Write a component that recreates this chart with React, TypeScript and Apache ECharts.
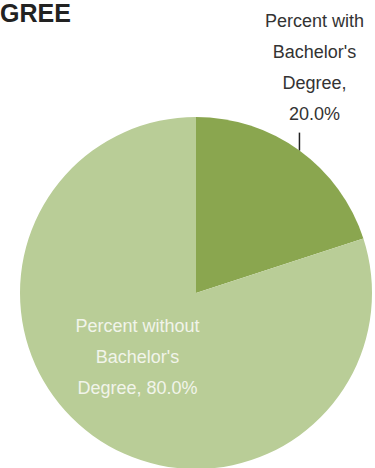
import React, { useEffect, useRef } from "react";
import * as echarts from "echarts";

const categories = ["Percent with\nBachelor's\nDegree,", "Percent without\nBachelor's\nDegree,"];
const values = [20.0, 80.0];
const colors = ["#8aa64f", "#b9cd97"];
const titleText = "GREE";

const FONT = "'Liberation Sans', Arial, sans-serif";

export default function App() {
  const ref = useRef<HTMLDivElement>(null);
  useEffect(() => {
    document.body.style.margin = "0";
    const chart = echarts.init(ref.current!, null, { renderer: "svg" });
    const data = categories.map((c, i) => ({
      name: c,
      value: values[i],
      itemStyle: { color: colors[i] },
      label:
        i === 0
          ? {
              position: "outside",
              formatter: (p: any) => `Percent with\nBachelor's\nDegree,\n${p.value.toFixed(1)}%`,
              color: "#333333",
              fontFamily: FONT,
              fontSize: 18,
              lineHeight: 31,
              align: "center",
            }
          : {
              position: "inside",
              formatter: (p: any) => `Percent without\nBachelor's\nDegree, ${p.value.toFixed(1)}%`,
              color: "#f1f4ea",
              fontFamily: FONT,
              fontSize: 18,
              lineHeight: 31,
              align: "center",
            },
      labelLine: i === 0 ? { show: true, length: 18, length2: 0, lineStyle: { color: "#222", width: 1.5 } } : { show: false },
    }));
    chart.setOption({
      animation: false,
      title: {
        text: titleText,
        left: 0,
        top: 0,
        padding: 0,
        textStyle: { fontFamily: FONT, fontSize: 25, fontWeight: "bold", color: "#222222" },
      },
      series: [
        {
          type: "pie",
          center: [196, 293],
          radius: 176,
          startAngle: 90,
          clockwise: true,
          avoidLabelOverlap: false,
          data,
          labelLayout: (params: any) => {
            if (params.dataIndex === 0) {
              const pts = params.labelLinePoints;
              if (!pts) return {};
              const p0 = pts[0];
              const top = [p0[0], p0[1] - 18];
              return {
                x: p0[0] + 15,
                y: top[1] - 3 - params.labelRect.height / 2,
                align: "center",
                verticalAlign: "middle",
                labelLinePoints: [p0, top, top],
              };
            }
            return { dx: -5, dy: -10 };
          },
        },
      ],
    });
    return () => chart.dispose();
  }, []);
  return <div ref={ref} style={{ width: 375, height: 468 }} />;
}
